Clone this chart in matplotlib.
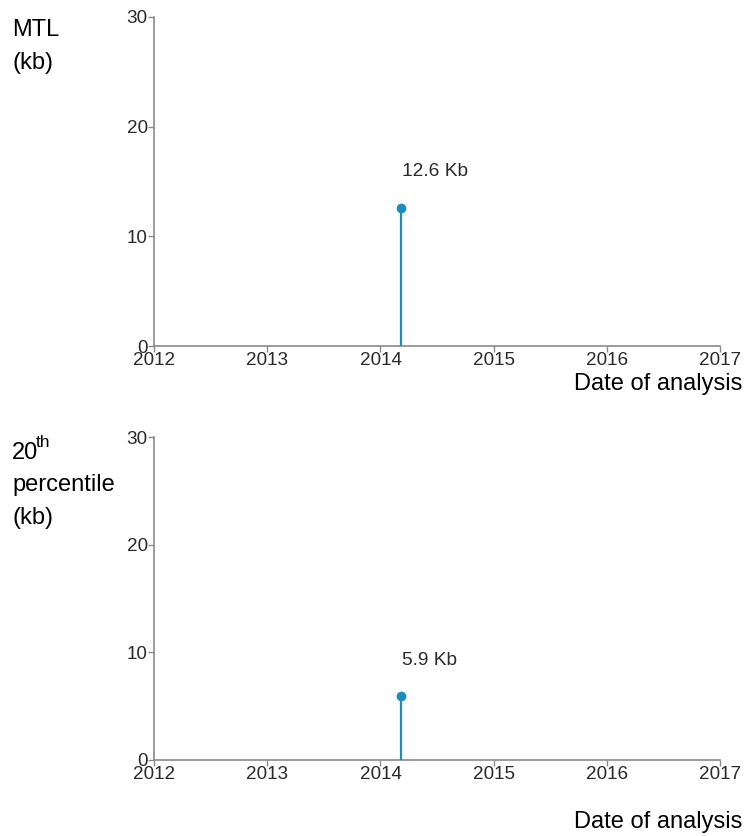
import matplotlib
matplotlib.use("Agg")
import matplotlib.pyplot as plt

plt.rcParams['font.family'] = ['Liberation Sans', 'DejaVu Sans']

# one measurement per panel (analysis date as decimal year, telomere length in kb)
analysis_dates = [2014.18]
mtl_kb = [12.6]
p20_kb = [5.9]

year_ticks = [2012, 2013, 2014, 2015, 2016, 2017]
kb_ticks = [0, 10, 20, 30]

STEM_COLOR = '#1a8ec0'
AXIS_COLOR = '#8a8a8a'
TICK_TEXT = '#2a2a2a'


def draw_panel(ax, values):
    for d, v in zip(analysis_dates, values):
        ax.plot([d, d], [0, v], color=STEM_COLOR, lw=1.6, solid_capstyle='butt', zorder=3)
        ax.plot(d, v, 'o', color=STEM_COLOR, ms=6, zorder=4)
        ax.annotate(f"{v} Kb", (d, v), xytext=(1, 20), textcoords='offset points',
                    fontsize=13.8, color=TICK_TEXT, ha='left', va='bottom')
    ax.set_xlim(2012, 2017)
    ax.set_ylim(0, 30)
    ax.set_xticks(year_ticks)
    ax.set_yticks(kb_ticks)
    for s in ['top', 'right']:
        ax.spines[s].set_visible(False)
    for s in ['left', 'bottom']:
        ax.spines[s].set_color(AXIS_COLOR)
        ax.spines[s].set_linewidth(1.2)
    ax.tick_params(colors=AXIS_COLOR, labelcolor=TICK_TEXT, labelsize=13.6,
                   length=4, width=1, pad=0.5)


fig = plt.figure(figsize=(7.44, 8.36), dpi=100)
ax1 = fig.add_axes([0.207, 0.586, 0.761, 0.394])
ax2 = fig.add_axes([0.207, 0.091, 0.761, 0.386])

draw_panel(ax1, mtl_kb)
draw_panel(ax2, p20_kb)

H = 836.0
lab = dict(fontsize=17, color='black', ha='left', va='baseline')
fig.text(12 / 744, 1 - 36 / H, "MTL", **lab)
fig.text(12 / 744, 1 - 69 / H, "(kb)", **lab)

fig.text(12 / 744, 1 - 459 / H, "20", **lab)
fig.text(36 / 744, 1 - 447 / H, "th", fontsize=12.5, color='black', ha='left', va='baseline')
fig.text(12 / 744, 1 - 491 / H, "percentile", **lab)
fig.text(12 / 744, 1 - 524 / H, "(kb)", **lab)

fig.text(742 / 744, 1 - 390 / H, "Date of analysis", fontsize=17, ha='right', va='baseline')
fig.text(742 / 744, 1 - 828 / H, "Date of analysis", fontsize=17, ha='right', va='baseline')

fig.savefig("out.png", dpi=100)
